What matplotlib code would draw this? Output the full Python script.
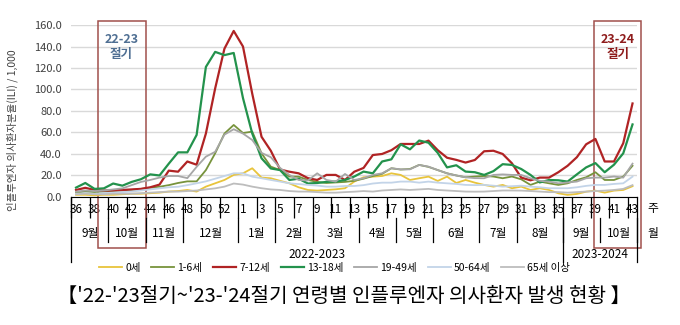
import numpy as np
import matplotlib
matplotlib.use('Agg')
import matplotlib.pyplot as plt
from matplotlib.patches import Rectangle
from matplotlib.transforms import blended_transform_factory

plt.rcParams['font.family'] = ['Noto Sans CJK KR', 'DejaVu Sans']

# weeks: 2022 w36-53, 2023 w1-43
weeks = list(range(36, 54)) + list(range(1, 44))

months = ['9월', '10월', '11월', '12월', '1월', '2월', '3월', '4월', '5월', '6월', '7월', '8월', '9월', '10월']
month_weeks = [4, 4, 4, 6, 4, 4, 5, 4, 4, 5, 4, 5, 4, 4]

seasons = ['2022-2023', '2023-2024']
season_weeks = [53, 8]

age_0 = [2, 2, 1.5, 2, 2, 2.5, 3, 3, 3.5, 4, 5, 5.5, 6.5, 5, 9.6, 12.7, 15.8, 20.5, 22, 26.7,
         18, 17.4, 15, 12.7, 9, 6.5, 5.9, 6.5, 7.1, 8.1, 14.3, 18.3, 18.9, 19.5, 22, 20.5, 15.8, 17.4, 18.9, 14.9,
         18.9, 13, 15.8, 13.3, 11.2, 9.6, 11.2, 8.1, 9.6, 6.5, 8.1, 6.5, 3.4, 1.9, 2.8, 4.9, 5.9, 4, 5.9, 6.5, 10]
age_1_6 = [4, 5, 4.5, 5, 5.5, 6, 6.5, 7.5, 8.5, 9.5, 11, 13, 14.5, 14.5, 25, 40.6, 59, 67, 59.5, 60.8,
           40.6, 28.2, 25, 19, 18.9, 15.8, 14, 13, 13.5, 14, 15, 17, 19.5, 21.5, 26.7, 25.5, 26, 29.8, 28, 25,
           22, 20, 18.3, 19, 19.5, 19, 17.4, 19, 16.4, 11.2, 14.3, 12.7, 11.2, 12.7, 15.8, 18.3, 23, 15.8, 15.8, 19, 29]
age_7_12 = [6.5, 8.5, 6.5, 6, 6, 6.5, 7, 7.5, 9, 11.5, 24.5, 23.5, 33, 30, 59, 101, 138, 154.5, 140, 96,
            56, 43, 25.5, 23.5, 22, 17.5, 15.8, 20.5, 20.5, 15.8, 23.5, 27, 39, 40, 43.5, 49.3, 49.3, 49.3, 52.4, 43.5,
            36.5, 34.5, 32, 34.4, 42.5, 43, 40, 31.3, 18, 15.5, 18, 18, 23, 29, 37, 49, 54, 33, 33, 50, 87]
age_13_18 = [8.7, 13, 7.5, 8, 12.5, 10.5, 14, 16.5, 21, 20, 31, 41.5, 41.5, 57.7, 121, 135, 132, 134, 92, 59,
             36, 26.5, 25, 15.8, 17, 12.5, 13, 14, 14.3, 15.8, 19, 23.6, 22, 33, 35, 49, 44.3, 52.5, 50.5, 41,
             27.5, 29.5, 23.6, 23, 20.5, 24, 30.5, 29.8, 26, 20.5, 13.5, 15.8, 15.5, 14.3, 21, 27.5, 31.5, 23, 30, 40.6, 67.5]
age_19_49 = [5, 6, 5.5, 6, 7, 8, 11, 14, 15.8, 18, 19.5, 19.5, 17.5, 28, 37.5, 42, 58, 63, 59, 53,
             41, 37, 27, 20.5, 15.8, 15.3, 22, 15.8, 14.3, 21.4, 15.8, 17.4, 20.5, 22, 26.7, 25.7, 25.7, 29.8, 28.2, 25,
             22, 20, 18.3, 17.5, 17.4, 20.5, 21, 20.5, 20.5, 17.4, 15, 14.3, 12.7, 13.5, 14.3, 17.4, 18, 18, 19, 18, 31]
age_50_64 = [3, 3.5, 3, 3.5, 4, 4.5, 5, 6, 7, 8, 9, 9.5, 11, 12.7, 14.5, 17, 19.5, 22, 22, 18.9,
             17.4, 15.8, 14.3, 12.7, 12, 11.2, 10.6, 9.6, 9.6, 10.2, 10.2, 11, 12.5, 13.3, 13.3, 14.3, 14.3, 13.3, 14.3, 13.3,
             12.7, 12.1, 11.2, 11, 11.2, 10.5, 9.6, 10, 10.5, 9.6, 9, 8.1, 8.1, 8.1, 9, 10.3, 11.2, 11.2, 12.1, 12.7, 18.9]
age_65 = [2.5, 3, 2.5, 2.5, 3, 3, 3, 3.5, 4, 4.5, 5, 5, 5.5, 6, 7, 8, 9.6, 12.5, 11.5, 9.6,
          8.1, 7, 6.5, 5.5, 5, 5, 4.5, 4, 4, 4.5, 4.9, 5.5, 5, 6, 6.5, 7, 6.5, 7, 7.5, 6.5,
          6, 5.5, 5, 4.9, 5, 5.5, 6, 6, 5.9, 5.5, 5, 4.5, 4.5, 4, 4.5, 5, 5.5, 5.9, 6.5, 7.5, 11]

series = [
    ('0세', age_0, '#e8c43c', 1.3),
    ('1-6세', age_1_6, '#77933c', 1.3),
    ('7-12세', age_7_12, '#b02324', 1.6),
    ('13-18세', age_13_18, '#23924c', 1.6),
    ('19-49세', age_19_49, '#a6a6a6', 1.3),
    ('50-64세', age_50_64, '#c3d4e8', 1.3),
    ('65세 이상', age_65, '#bdbdbd', 1.3),
]

fig = plt.figure(figsize=(6.8, 3.25), dpi=100)
ax = fig.add_axes([0.105, 0.394, 0.832, 0.529])

x = np.arange(len(weeks))
for name, vals, color, lw in series:
    ax.plot(x, vals, color=color, lw=lw, label=name)

ax.set_xlim(-0.5, len(weeks) - 0.5)
ax.set_ylim(0, 160)
ax.set_yticks(np.arange(0, 161, 20))
ax.set_yticklabels([f'{v:.1f}' for v in np.arange(0, 161, 20)], fontsize=8, color='#404040')
ax.grid(axis='y', color='#d9d9d9', lw=1)
ax.set_axisbelow(True)
for s in ['left', 'right', 'top']:
    ax.spines[s].set_visible(False)
ax.spines['bottom'].set_color('black')
ax.tick_params(axis='y', length=0, pad=7)

# week labels every 2nd week, tick lines between them
ax.set_xticks(x[::2])
ax.set_xticklabels([str(w) for w in weeks[::2]], fontsize=8.5)
ax.tick_params(axis='x', which='major', length=0, pad=4)
ax.set_xticks(np.arange(-0.5, len(weeks) - 1, 2), minor=True)
ax.tick_params(axis='x', which='minor', length=15, width=0.9, color='black')

trans = blended_transform_factory(ax.transData, ax.transAxes)

# month row
start = -0.5
for m, n in zip(months, month_weeks):
    end = start + n
    ax.text((start + end) / 2, -0.21, m, transform=trans, ha='center', va='center', fontsize=8.5)
    ax.plot([end, end], [-0.122, -0.262], transform=trans, color='black', lw=0.9, clip_on=False)
    start = end

# season row
start = -0.5
ax.plot([start, start], [0, -0.378], transform=trans, color='black', lw=0.9, clip_on=False)
for s, n in zip(seasons, season_weeks):
    end = start + n
    ax.text((start + end) / 2, -0.335, s, transform=trans, ha='center', va='center', fontsize=8.5)
    ax.plot([end, end], [0, -0.378], transform=trans, color='black', lw=0.9, clip_on=False)
    start = end

ax.text(len(weeks) + 0.6, -0.07, '주', transform=trans, ha='left', va='center', fontsize=8.5)
ax.text(len(weeks) + 0.6, -0.215, '월', transform=trans, ha='left', va='center', fontsize=8.5)

# season highlight boxes
ftrans = blended_transform_factory(ax.transData, fig.transFigure)
box_color = '#a0504c'
ax.add_patch(Rectangle((2.35, 0.237), 5.15, 0.698, transform=ftrans, fill=False,
                       edgecolor=box_color, lw=1.1, clip_on=False))
ax.add_patch(Rectangle((55.85, 0.237), 5.1, 0.698, transform=ftrans, fill=False,
                       edgecolor=box_color, lw=1.1, clip_on=False))
ax.text(4.9, 0.855, '22-23\n절기', transform=ftrans, ha='center', va='center',
        fontsize=9, fontweight='bold', color='#4f6f93', linespacing=1.2)
ax.text(58.4, 0.855, '23-24\n절기', transform=ftrans, ha='center', va='center',
        fontsize=9, fontweight='bold', color='#8e1c1c', linespacing=1.2)

fig.text(0.018, 0.6, '인플루엔자 의사환자분율(ILI) / 1,000', rotation=90,
         ha='center', va='center', fontsize=7.5, color='#404040')

handles, labels = ax.get_legend_handles_labels()
fig.legend(handles, labels, ncol=7, loc='center', bbox_to_anchor=(0.492, 0.175),
           frameon=False, fontsize=7.5, handlelength=2.2, handletextpad=0.3, columnspacing=1.05)

fig.text(0.505, 0.088, "【'22-'23절기~'23-'24절기 연령별 인플루엔자 의사환자 발생 현황 】",
         ha='center', va='center', fontsize=14.5)

plt.savefig('out.png', dpi=100)
